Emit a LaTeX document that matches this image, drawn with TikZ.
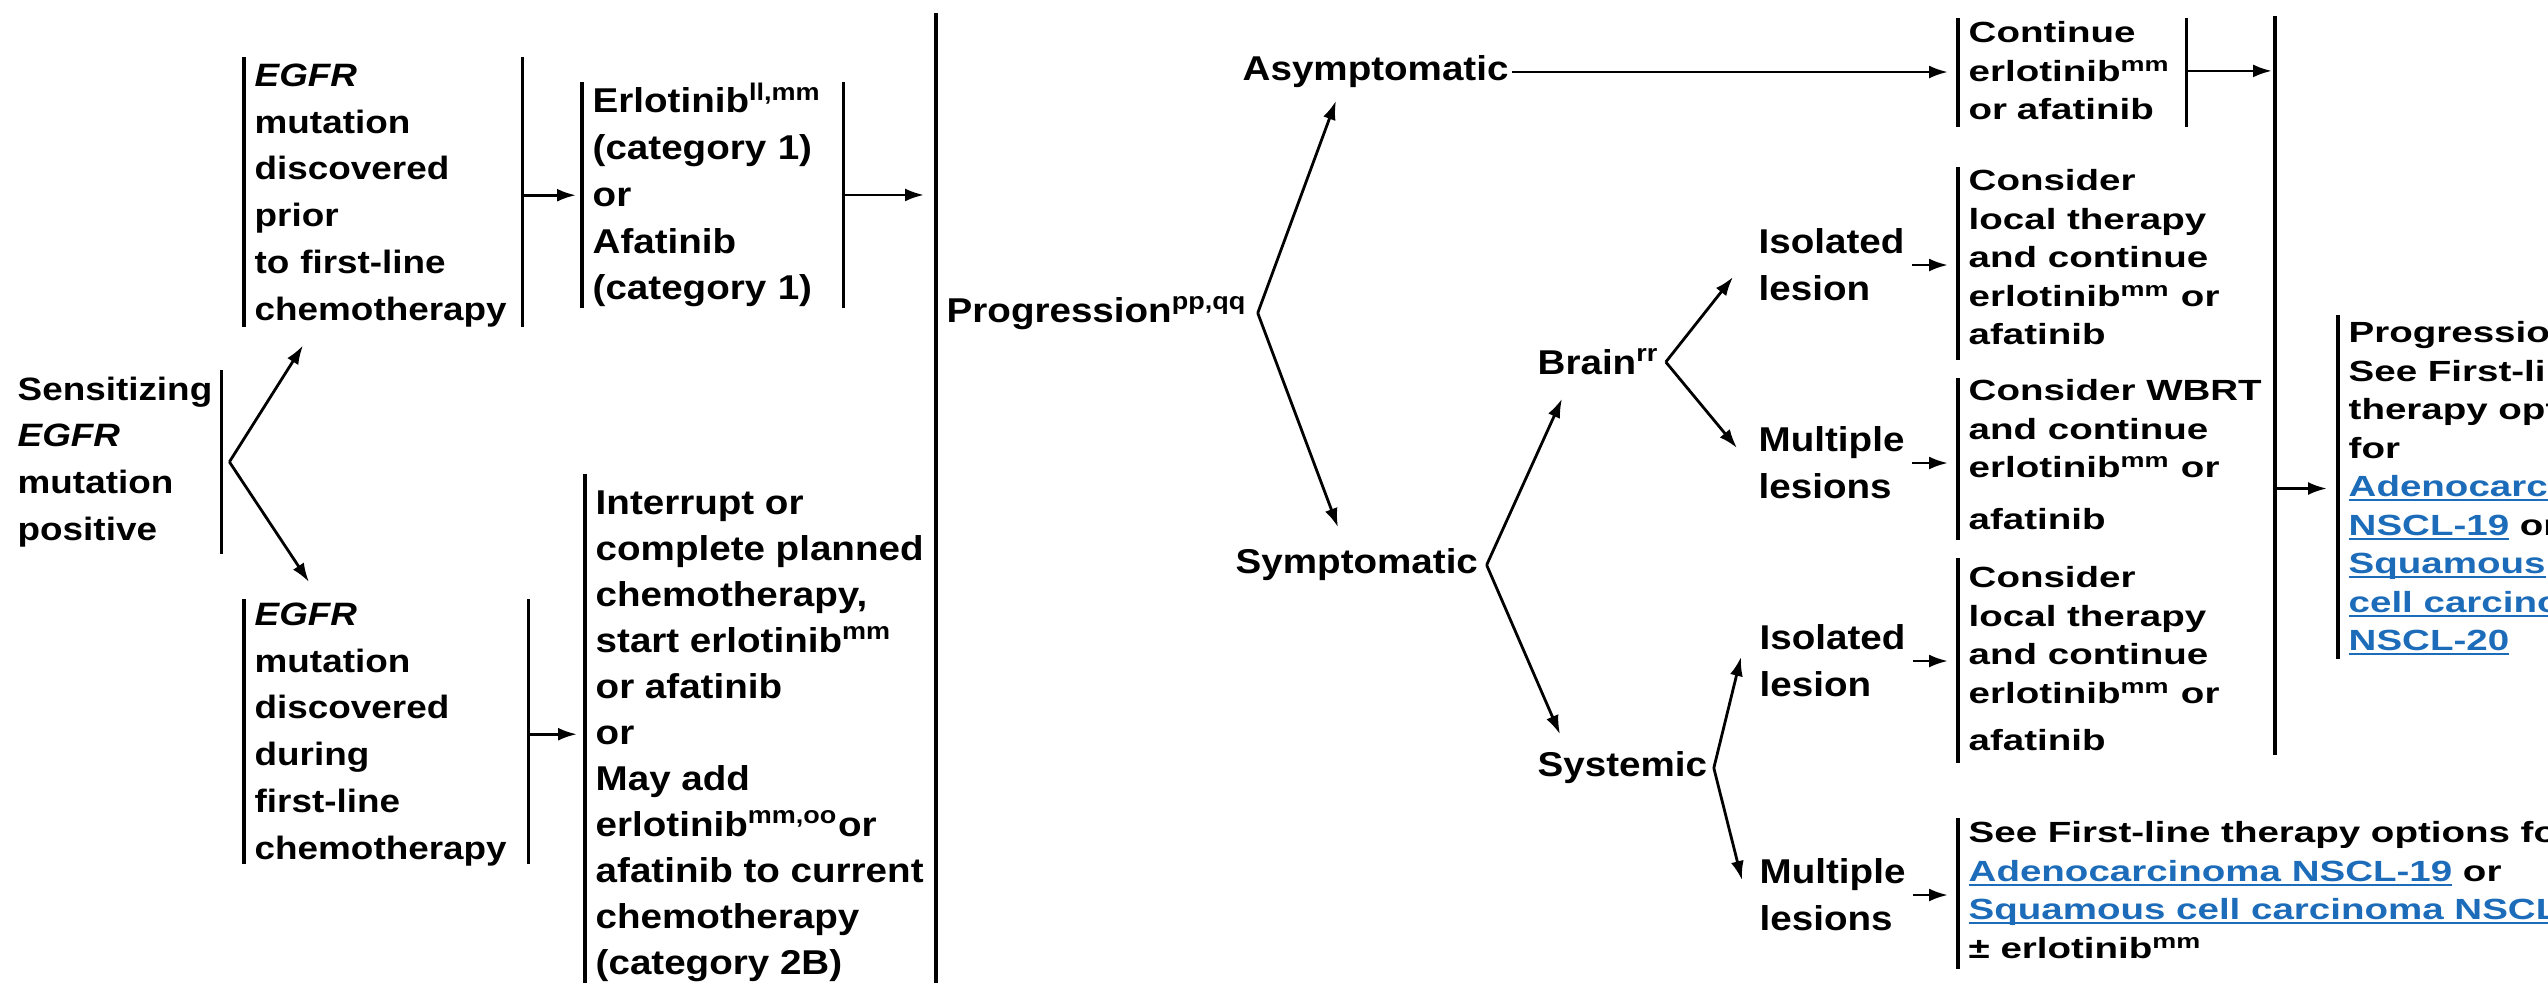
\documentclass[tikz,border=0pt]{standalone}
\usepackage{fontspec}
\usetikzlibrary{arrows.meta,calc}
\setmainfont{Liberation Sans}
\newfontfamily\narrowfont[FakeStretch=1.14]{Liberation Sans}
\newfontfamily\boxfont[FakeStretch=1.12]{Liberation Sans}
\newfontfamily\widefont[FakeStretch=1.32]{Liberation Sans}
\definecolor{linkblue}{RGB}{28,108,186}
\newsavebox{\lnkbox}
\newcommand{\lnk}[1]{\textcolor{linkblue}{\sbox{\lnkbox}{#1}\rlap{\rule[-1.3pt]{\wd\lnkbox}{0.55pt}}\usebox{\lnkbox}}}
\tikzset{
  lbl/.style={anchor=west, inner sep=0, align=left,
    font=\boxfont\bfseries\fontsize{9.8}{13.3}\selectfont},
  lbox/.style={anchor=north west, inner xsep=1mm, inner ysep=0, align=left,
    font=\boxfont\bfseries\fontsize{9.8}{13.3}\selectfont},
  nbox/.style={lbox, font=\narrowfont\bfseries\fontsize{9.2}{13.3}\selectfont},
  rbox/.style={anchor=north west, inner xsep=1mm, inner ysep=0, align=left,
    font=\widefont\bfseries\fontsize{8.3}{10.95}\selectfont},
  bar/.style={line width=0.32mm},
  arr/.style={-{Latex[length=1.9mm,width=1.3mm]}, line width=0.28mm},
}
\begin{document}
\begin{tikzpicture}[x=0.1mm, y=-0.1mm]
  \clip (0,0) rectangle (2548,991);
  % left part
  \node[nbox, text width=19.5mm, inner xsep=0.8mm] (sens) at (9,376)
    {Sensitizing\\\textit{EGFR}\\mutation\\positive};
  \node[nbox, text width=25.7mm] (egfra) at (244,63)
    {\textit{EGFR}\\mutation\\discovered\\prior\\to first-line\\chemotherapy};
  \node[lbox, text width=24mm] (erlo) at (582,82)
    {Erlotinib\textsuperscript{ll,mm}\\(category 1)\\or\\Afatinib\\(category 1)};
  \node[nbox, text width=26.3mm] (egfrb) at (244,602)
    {\textit{EGFR}\\mutation\\discovered\\during\\first-line\\chemotherapy};
  \node[lbox, font=\boxfont\bfseries\fontsize{9.8}{13.1}\selectfont] (intr) at (585,490)
    {Interrupt or\\complete planned\\chemotherapy,\\start erlotinib\textsuperscript{mm}\\or afatinib\\or\\May add\\erlotinib\textsuperscript{mm,oo}or\\afatinib to current\\chemotherapy\\(category 2B)};
  % middle part
  \node[lbl] (prog) at (946,313) {Progression\textsuperscript{pp,qq}};
  \node[lbl] (asym) at (1242,72) {Asymptomatic};
  \node[lbl] (sympt) at (1235,565) {Symptomatic};
  \node[lbl] (brain) at (1537,362) {Brain\textsuperscript{rr}};
  \node[lbl] (syst) at (1537,768) {Systemic};
  \node[lbl] (isob) at (1758,265) {Isolated\\lesion};
  \node[lbl] (mulb) at (1758,463) {Multiple\\lesions};
  \node[lbl] (isos) at (1759,661) {Isolated\\lesion};
  \node[lbl] (muls) at (1759,895) {Multiple\\lesions};
  % right part
  \node[rbox, text width=20.7mm] (cont) at (1958,21)
    {Continue\\erlotinib\textsuperscript{mm}\\or afatinib};
  \node[rbox] (consa) at (1958,169)
    {Consider\\local therapy\\and continue\\erlotinib\textsuperscript{mm} or\\afatinib};
  \node[rbox] (cwbrt) at (1958,379)
    {Consider WBRT\\and continue\\erlotinib\textsuperscript{mm} or\\[1.3mm]afatinib};
  \node[rbox] (consb) at (1958,566)
    {Consider\\local therapy\\and continue\\erlotinib\textsuperscript{mm} or\\[0.9mm]afatinib};
  \node[rbox] (seefl) at (1958,821)
    {See First-line therapy options fo\\\lnk{Adenocarcinoma NSCL-19} or\\\lnk{Squamous cell carcinoma NSCL}\\± erlotinib\textsuperscript{mm}};
  \node[rbox] (pfl) at (2338,321)
    {Progressio\\See First-li\\therapy opt\\for\\\lnk{Adenocarc}\\\lnk{NSCL-19} or\\\lnk{Squamous}\\\lnk{cell carcino}\\\lnk{NSCL-20}};
  \coordinate (pbtop) at (936,13);
  \coordinate (pbbot) at (936,983);
  \coordinate (rbtop) at (2275,16);
  \coordinate (rbbot) at (2275,755);
  \coordinate (sfork) at ($(sens.east)+(8,0)$);
  \coordinate (pfork) at ($(prog.east)+(10,0)$);
  \coordinate (yfork) at ($(sympt.east)+(8,0)$);
  \coordinate (bfork) at ($(brain.east)+(6,0)$);
  \coordinate (tfork) at ($(syst.east)+(6,0)$);
  % bars
  \begin{scope}[bar]
    \draw ([yshift=0.6mm]sens.north east) -- ([yshift=-0.6mm]sens.south east);
    \draw ([yshift=0.6mm]egfra.north west) -- (egfra.south west);
    \draw ([yshift=0.6mm]egfra.north east) -- (egfra.south east);
    \draw (erlo.north west) -- (erlo.south west);
    \draw (erlo.north east) -- (erlo.south east);
    \draw ([yshift=0.3mm]egfrb.north west) -- ([yshift=0.2mm]egfrb.south west);
    \draw ([yshift=0.3mm]egfrb.north east) -- ([yshift=0.2mm]egfrb.south east);
    \draw ([yshift=1.6mm]intr.north west) -- (intr.south west);
    \draw (pbtop) -- (pbbot);
    \draw ([yshift=0.3mm]cont.north west) -- ([yshift=-0.6mm]cont.south west);
    \draw ([yshift=0.3mm]cont.north east) -- ([yshift=-0.6mm]cont.south east);
    \draw ([yshift=0.2mm]consa.north west) -- ([yshift=-1.4mm]consa.south west);
    \draw ([yshift=0.1mm]cwbrt.north west) -- ([yshift=-1mm]cwbrt.south west);
    \draw ([yshift=0.8mm]consb.north west) -- ([yshift=-1.1mm]consb.south west);
    \draw ([yshift=0.3mm]seefl.north west) -- ([yshift=-1mm]seefl.south west);
    \draw (rbtop) -- (rbbot);
    \draw ([yshift=0.6mm]pfl.north west) -- ([yshift=-0.3mm]pfl.south west);
  \end{scope}
  % arrows
  \begin{scope}[arr]
    \draw (sfork) -- ($(egfra.south west)+(59,18)$);
    \draw (sfork) -- ($(egfrb.north west)+(65,-20)$);
    \draw[shorten >=0.6mm] (egfra.east) -- (egfra.east -| erlo.west);
    \draw[shorten >=1.2mm] (erlo.east) -- (erlo.east -| pbtop);
    \draw[shorten >=0.8mm] (egfrb.east) -- (egfrb.east -| intr.west);
    \draw (pfork) -- ($(asym.south west)+(94,12)$);
    \draw (pfork) -- ($(sympt.north west)+(103,-21)$);
    \draw[shorten <=0.3mm, shorten >=1mm] (asym.east) -- (asym.east -| cont.west);
    \draw (yfork) -- ($(brain.south west)+(25,23)$);
    \draw (yfork) -- ($(syst.north west)+(23,-17)$);
    \draw (bfork) -- ($(isob.west)+(-25,12)$);
    \draw (bfork) -- ($(mulb.west)+(-21,-15)$);
    \draw (tfork) -- ($(isos.west)+(-18,-4)$);
    \draw (tfork) -- ($(muls.west)+(-17,-15)$);
    \draw[shorten <=0.7mm, shorten >=1mm] (isob.east) -- (isob.east -| consa.west);
    \draw[shorten <=0.7mm, shorten >=1mm] (mulb.east) -- (mulb.east -| cwbrt.west);
    \draw[shorten <=0.7mm, shorten >=1mm] (isos.east) -- (isos.east -| consb.west);
    \draw[shorten <=0.7mm, shorten >=1mm] (muls.east) -- (muls.east -| seefl.west);
    \draw[shorten >=0.3mm] (cont.east) -- (cont.east -| rbtop);
    \draw[shorten >=1.1mm] (pfl.west -| rbtop) -- (pfl.west);
  \end{scope}
\end{tikzpicture}
\end{document}
